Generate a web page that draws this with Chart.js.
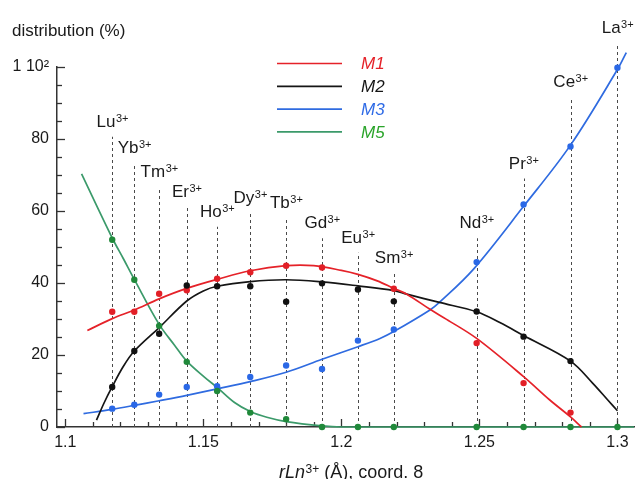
<!DOCTYPE html>
<html>
<head>
<meta charset="utf-8">
<script src="https://cdn.jsdelivr.net/npm/chart.js@4.4.1/dist/chart.umd.min.js"></script>
<style>
  html, body { margin: 0; padding: 0; background: #fff; }
  #wrap { width: 638px; height: 479px; }
</style>
</head>
<body>
<div id="wrap"><canvas id="dist" width="638" height="479"></canvas></div>
<script>
// lanthanide ions and their radii (Å, coord. 8 scale)
const ions = ['Lu', 'Yb', 'Tm', 'Er', 'Ho', 'Dy', 'Tb', 'Gd', 'Eu', 'Sm', 'Nd', 'Pr', 'Ce', 'La'];
const radii = [1.117, 1.125, 1.134, 1.144, 1.155, 1.167, 1.180, 1.193, 1.206, 1.219, 1.249, 1.266, 1.283, 1.300];
// height (%) where each dashed guide stops
const guideTops = [80.6, 73.2, 66.7, 61.2, 55.6, 59.5, 58.0, 52.4, 48.4, 42.7, 52.4, 69.0, 91.7, 106.6];

// measured distribution per ion (null = not plotted)
const m1Obs = [32.0, 32.0, 37.0, 38.0, 41.2, 43.0, 44.8, 44.3, null, 38.4, 23.3, 12.2, 4.0, null];
const m2Obs = [11.1, 21.1, 25.9, 39.3, 39.1, 39.1, 34.8, 39.9, 38.2, 34.9, 32.1, 25.1, 18.3, null];
const m3Obs = [5.1, 6.2, 9.0, 11.1, 11.3, 13.9, 17.1, 16.1, 24.0, 27.1, 45.8, 61.8, 77.9, 99.8];
const m5Obs = [52.0, 40.9, 28.1, 18.1, 10.0, 4.0, 2.2, 0, 0, 0, 0, 0, 0, 0];

// fitted curves
const m1FitX = [1.108, 1.117, 1.125, 1.134, 1.144, 1.155, 1.167, 1.180, 1.190, 1.200, 1.206, 1.213, 1.219, 1.2237, 1.2321, 1.2381, 1.249, 1.266, 1.2755, 1.283, 1.287];
const m1FitY = [26.8, 30.1, 32.5, 35.6, 38.5, 41.0, 43.4, 44.8, 44.8, 43.5, 42.4, 40.6, 38.5, 36.9, 32.7, 29.9, 24.6, 14.0, 7.5, 2.8, 0];
const m2FitX = [1.1113, 1.114, 1.117, 1.121, 1.125, 1.134, 1.144, 1.150, 1.155, 1.167, 1.180, 1.193, 1.206, 1.219, 1.2237, 1.2355, 1.249, 1.2574, 1.266, 1.283, 1.291, 1.2965, 1.300];
const m2FitY = [1.9, 6.6, 11.2, 16.8, 21.1, 27.6, 35.0, 37.8, 39.1, 40.4, 40.9, 40.3, 39.2, 37.9, 36.9, 34.6, 32.0, 29.0, 25.4, 18.3, 12.2, 7.5, 4.5];
const m3FitX = [1.1066, 1.117, 1.125, 1.134, 1.144, 1.155, 1.167, 1.180, 1.193, 1.206, 1.214, 1.219, 1.2321, 1.2355, 1.2478, 1.266, 1.283, 1.300, 1.3032];
const m3FitY = [3.7, 4.9, 6.0, 7.3, 8.8, 10.6, 12.6, 15.2, 18.8, 22.3, 24.6, 26.5, 32.5, 34.6, 43.8, 61.3, 78.3, 99.3, 104.0];
const m5FitX = [1.1059, 1.117, 1.121, 1.125, 1.134, 1.1395, 1.144, 1.1505, 1.155, 1.1613, 1.167, 1.173, 1.180, 1.193, 1.200, 1.306];
const m5FitY = [70.3, 52.5, 46.8, 41.0, 28.5, 22.8, 18.3, 13.8, 11.0, 6.8, 4.3, 2.7, 1.5, 0.3, 0, 0];

const series = [
  { name: 'M1', line: '#e52229', dot: '#e21f27', text: '#e52229', obs: m1Obs, fx: m1FitX, fy: m1FitY },
  { name: 'M2', line: '#151515', dot: '#111111', text: '#151515', obs: m2Obs, fx: m2FitX, fy: m2FitY },
  { name: 'M3', line: '#2f6be0', dot: '#2a68e6', text: '#2f6be6', obs: m3Obs, fx: m3FitX, fy: m3FitY },
  { name: 'M5', line: '#3b9a6a', dot: '#20893a', text: '#2aa42a', obs: m5Obs, fx: m5FitX, fy: m5FitY }
];

const FONT = '"Liberation Sans", Arial, Helvetica, sans-serif';

function pairs(xs, ys) {
  return xs.map((x, i) => ({ x, y: ys[i] })).filter((p) => p.y !== null);
}

const datasets = [];
series.forEach((s, i) => {
  datasets.push({
    label: s.name,
    data: pairs(s.fx, s.fy),
    showLine: true,
    borderColor: s.line,
    borderWidth: 1.7,
    pointRadius: 0,
    tension: 0.35,
    clip: false,
    order: 10 + i
  });
});
series.forEach((s, i) => {
  datasets.push({
    label: s.name + ' obs',
    data: pairs(radii, s.obs),
    showLine: false,
    pointRadius: 3.2,
    pointBorderWidth: 0,
    pointBackgroundColor: s.dot,
    clip: false,
    order: 4 - i
  });
});

function drawIon(ctx, name, cx, baseY) {
  ctx.font = '17px ' + FONT;
  const w1 = ctx.measureText(name).width;
  ctx.font = '11px ' + FONT;
  const w2 = ctx.measureText('3+').width;
  const x0 = cx - (w1 + w2) / 2;
  ctx.fillStyle = '#1a1a1a';
  ctx.textAlign = 'left';
  ctx.textBaseline = 'alphabetic';
  ctx.font = '17px ' + FONT;
  ctx.fillText(name, x0, baseY);
  ctx.font = '11px ' + FONT;
  ctx.fillText('3+', x0 + w1 + 0.5, baseY - 5);
}

const frame = {
  id: 'frame',
  beforeDatasetsDraw(chart) {
    const { ctx, scales: { x, y } } = chart;
    const y0 = y.getPixelForValue(0);
    const x0 = x.left;
    ctx.save();

    // inward tick marks
    ctx.strokeStyle = '#333';
    ctx.lineWidth = 1.3;
    x.ticks.forEach((t) => {
      const px = Math.round(x.getPixelForValue(t.value)) + 0.5;
      const len = Math.round(t.value * 100) % 5 === 0 ? 8 : 5;
      ctx.beginPath();
      ctx.moveTo(px, y0);
      ctx.lineTo(px, y0 - len);
      ctx.stroke();
    });
    y.ticks.forEach((t) => {
      const py = Math.round(y.getPixelForValue(t.value)) + 0.5;
      const len = t.value % 20 === 0 ? 8 : 5;
      ctx.beginPath();
      ctx.moveTo(x0, py);
      ctx.lineTo(x0 + len, py);
      ctx.stroke();
    });

    // dashed guides with ion labels
    ctx.strokeStyle = '#4a4a4a';
    ctx.lineWidth = 1;
    ctx.setLineDash([3, 3]);
    radii.forEach((r, i) => {
      const px = Math.round(x.getPixelForValue(r)) + 0.5;
      const top = y.getPixelForValue(guideTops[i]);
      ctx.beginPath();
      ctx.moveTo(px, y0);
      ctx.lineTo(px, top);
      ctx.stroke();
    });
    ctx.setLineDash([]);
    radii.forEach((r, i) => {
      const px = x.getPixelForValue(r);
      drawIon(ctx, ions[i], px, y.getPixelForValue(guideTops[i]) - 10);
    });

    // legend
    series.forEach((s, i) => {
      const ly = 63.5 + i * 22.8;
      ctx.strokeStyle = s.line;
      ctx.lineWidth = 1.7;
      ctx.beginPath();
      ctx.moveTo(277, ly);
      ctx.lineTo(342, ly);
      ctx.stroke();
      ctx.fillStyle = s.text;
      ctx.font = 'italic 17px ' + FONT;
      ctx.textAlign = 'left';
      ctx.textBaseline = 'middle';
      ctx.fillText(s.name, 361, ly + 1);
    });

    // axis titles
    ctx.fillStyle = '#1a1a1a';
    ctx.textBaseline = 'middle';
    ctx.font = '17px ' + FONT;
    ctx.fillText('distribution (%)', 12, 31);

    let tx = 279;
    const ty = 472;
    ctx.textBaseline = 'alphabetic';
    ctx.font = 'italic 18px ' + FONT;
    ctx.fillText('rLn', tx, ty + 6);
    tx += ctx.measureText('rLn').width + 0.5;
    ctx.font = '12px ' + FONT;
    ctx.fillText('3+', tx, ty + 1);
    tx += ctx.measureText('3+').width;
    ctx.font = '18px ' + FONT;
    ctx.fillText(' (Å), coord. 8', tx, ty + 6);

    ctx.restore();
  }
};

new Chart(document.getElementById('dist').getContext('2d'), {
  type: 'scatter',
  data: { datasets },
  options: {
    responsive: false,
    animation: false,
    layout: { padding: { top: 67, right: 3, left: 0, bottom: 0 } },
    plugins: { legend: { display: false }, tooltip: { enabled: false } },
    scales: {
      x: {
        type: 'linear',
        min: 1.097,
        max: 1.306,
        afterFit: (s) => { s.height = 52; },
        grid: { display: false, drawTicks: false },
        border: { display: true, color: '#333', width: 1.5 },
        ticks: {
          stepSize: 0.01,
          includeBounds: false,
          autoSkip: false,
          maxRotation: 0,
          padding: 6,
          color: '#1a1a1a',
          font: { family: FONT, size: 16 },
          callback: (v) => {
            const h = Math.round(v * 100);
            return h % 5 === 0 ? String(h / 100) : '';
          }
        }
      },
      y: {
        min: 0,
        max: 100,
        afterFit: (s) => { s.width = 57; },
        grid: { display: false, drawTicks: false },
        border: { display: true, color: '#333', width: 1.5 },
        ticks: {
          stepSize: 5,
          autoSkip: false,
          padding: 8,
          color: '#1a1a1a',
          font: { family: FONT, size: 16 },
          callback: (v) => {
            if (v === 100) return '1 10²';
            return v % 20 === 0 ? String(v) : '';
          }
        }
      }
    }
  },
  plugins: [frame]
});
</script>
</body>
</html>
